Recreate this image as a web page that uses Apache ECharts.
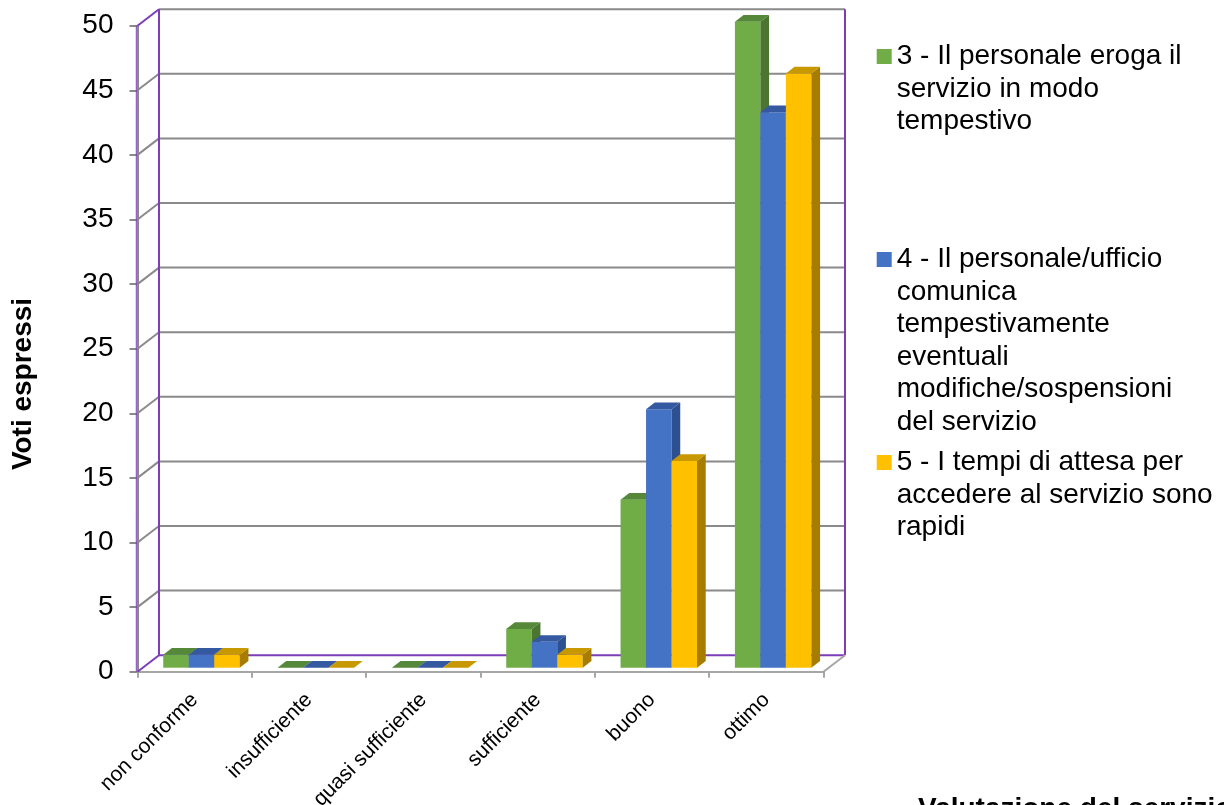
<!DOCTYPE html>
<html>
<head>
<meta charset="utf-8">
<script src="https://cdn.jsdelivr.net/npm/echarts@6/dist/echarts.min.js"></script>
<style>
  html, body { margin: 0; padding: 0; background: #ffffff; }
  #chart { width: 1224px; height: 805px; }
</style>
</head>
<body>
<div id="chart"></div>
<script>
// ---- data ----
const categories = ['non conforme', 'insufficiente', 'quasi sufficiente', 'sufficiente', 'buono', 'ottimo'];
const seriesNames = [
  '3 - Il personale eroga il\nservizio in modo\ntempestivo',
  '4 - Il personale/ufficio\ncomunica\ntempestivamente\neventuali\nmodifiche/sospensioni\ndel servizio',
  '5 - I tempi di attesa per\naccedere al servizio sono\nrapidi'
];
const valuesQ3 = [1, 0, 0, 3, 13, 50];
const valuesQ4 = [1, 0, 0, 2, 20, 43];
const valuesQ5 = [1, 0, 0, 1, 16, 46];
const yTicks = [0, 5, 10, 15, 20, 25, 30, 35, 40, 45, 50];
const yTitle = 'Voti espressi';
const xTitle = 'Valutazione del servizio';

// ---- look ----
const FONT = '"Liberation Sans", Arial, sans-serif';
const FRONT = ['#70AD47', '#4472C4', '#FFC000'];
const SIDE  = ['#4B7630', '#2D5090', '#A67D00'];
const TOP   = ['#558838', '#3459A0', '#C89800'];
const WALL_GREY = '#8A8A8A';
const WALL_PURPLE = '#7D3DB8';
// oblique projection of the chart depth
const DEPTH_X = 21.5, DEPTH_Y = -16.5;     // full depth of the walls
const BAR_X = 6.8, BAR_Y = -4;             // bars sit a little behind the front plane
const BAR_DX = 8.7, BAR_DY = -6.7;         // bar thickness
const BAR_FRAC = 0.223;                    // bar width as a share of the category band

const bars = [valuesQ3, valuesQ4, valuesQ5];
const LEGEND_LINES = 6;

function barRenderer(si) {
  return function (params, api) {
    const ci = api.value(0);
    const v = api.value(1);
    const base = api.coord([ci, 0]);
    const top = api.coord([ci, v]);
    const band = api.size([1, 0])[0];
    const bw = band * BAR_FRAC;
    const x = base[0] - 1.5 * bw + si * bw + BAR_X;
    const yb = base[1] + BAR_Y;
    const yt = top[1] + BAR_Y;
    return {
      type: 'group',
      children: [
        { type: 'rect', shape: { x: x, y: yt, width: bw, height: yb - yt }, style: { fill: FRONT[si] } },
        { type: 'polygon', shape: { points: [[x + bw, yt], [x + bw + BAR_DX, yt + BAR_DY], [x + bw + BAR_DX, yb + BAR_DY], [x + bw, yb]] }, style: { fill: SIDE[si] } },
        { type: 'polygon', shape: { points: [[x, yt], [x + BAR_DX, yt + BAR_DY], [x + bw + BAR_DX, yt + BAR_DY], [x + bw, yt]] }, style: { fill: TOP[si] } }
      ]
    };
  };
}

// gridlines running along the left wall and the back wall
function wallLineRenderer(params, api) {
  const cs = params.coordSys;
  const v = api.value(1);
  const y = api.coord([0, v])[1];
  const x0 = cs.x, x1 = cs.x + cs.width;
  const isTop = v === yTicks[yTicks.length - 1];
  const isBase = v === yTicks[0];
  return {
    type: 'group',
    children: [
      { type: 'polyline', shape: { points: [[x0 + DEPTH_X, y + DEPTH_Y], [x1 + DEPTH_X, y + DEPTH_Y]] },
        style: { stroke: isBase ? WALL_PURPLE : WALL_GREY, lineWidth: 2, fill: null } },
      { type: 'line', shape: { x1: x0, y1: y, x2: x0 + DEPTH_X, y2: y + DEPTH_Y },
        style: { stroke: (isTop || isBase) ? WALL_PURPLE : WALL_GREY, lineWidth: 2 } }
    ]
  };
}

// wall outline and floor edge
function frameRenderer(params, api) {
  const cs = params.coordSys;
  const yBase = api.coord([0, api.value(1)])[1];
  const yTop = api.coord([0, api.value(2)])[1];
  const x0 = cs.x, x1 = cs.x + cs.width;
  return {
    type: 'group',
    children: [
      { type: 'line', shape: { x1: x0 + DEPTH_X, y1: yTop + DEPTH_Y, x2: x0 + DEPTH_X, y2: yBase + DEPTH_Y }, style: { stroke: WALL_PURPLE, lineWidth: 2 } },
      { type: 'line', shape: { x1: x1 + DEPTH_X, y1: yTop + DEPTH_Y, x2: x1 + DEPTH_X, y2: yBase + DEPTH_Y }, style: { stroke: WALL_PURPLE, lineWidth: 2 } },
      { type: 'line', shape: { x1: x0 - 1.2, y1: yTop, x2: x0 - 1.2, y2: yBase }, style: { stroke: WALL_PURPLE, lineWidth: 1 } },
      { type: 'line', shape: { x1: x1, y1: yBase, x2: x1 + DEPTH_X, y2: yBase + DEPTH_Y }, style: { stroke: '#A6A6A6', lineWidth: 2 } }
    ]
  };
}

const chart = echarts.init(document.getElementById('chart'), null, { renderer: 'canvas' });

const series = [
  {
    type: 'custom', name: 'wall', silent: true, z: 1,
    renderItem: wallLineRenderer,
    encode: { x: 0, y: 1 },
    data: yTicks.map(v => [0, v])
  },
  {
    type: 'custom', name: 'frame', silent: true, z: 1,
    renderItem: frameRenderer,
    encode: { x: 0, y: [1, 2] },
    data: [[0, yTicks[0], yTicks[yTicks.length - 1]]]
  }
];
bars.forEach((vals, si) => {
  series.push({
    type: 'custom',
    name: seriesNames[si],
    z: 3 + si,
    silent: true,
    itemStyle: { color: FRONT[si] },
    renderItem: barRenderer(si),
    encode: { x: 0, y: 1 },
    data: vals.map((v, i) => [i, v])
  });
});

chart.setOption({
  animation: false,
  backgroundColor: '#ffffff',
  textStyle: { fontFamily: FONT },
  grid: { left: 137.5, top: 25.7, width: 686, height: 646, containLabel: false, outerBoundsMode: 'none' },
  xAxis: {
    type: 'category',
    data: categories,
    boundaryGap: true,
    axisLine: { show: true, lineStyle: { color: '#A6A6A6', width: 2 } },
    axisTick: { show: true, length: 6, interval: 0, lineStyle: { color: '#A6A6A6', width: 2 } },
    axisLabel: { interval: 0, rotate: 45, margin: 25, fontSize: 21, color: '#000', fontFamily: FONT },
    splitLine: { show: false }
  },
  yAxis: {
    type: 'value',
    min: 0, max: 50, interval: 5,
    axisLine: { show: true, lineStyle: { color: WALL_GREY, width: 2 } },
    axisTick: { show: true, length: 8, lineStyle: { color: WALL_GREY, width: 2 } },
    axisLabel: { margin: 24, fontSize: 28, color: '#000', fontFamily: FONT },
    splitLine: { show: false }
  },
  legend: {
    orient: 'vertical',
    left: 876.7,
    top: 40.25,
    padding: 0,
    itemWidth: 15,
    itemHeight: 195,
    itemGap: 8,
    selectedMode: false,
    icon: 'path://M0,0L0.01,0M0,8.75L15,8.75L15,23.75L0,23.75ZM0,195L0.01,195',
    data: seriesNames,
    formatter: function (name) {
      const lines = name.split('\n');
      while (lines.length < LEGEND_LINES) lines.push(' ');
      return lines.join('\n');
    },
    textStyle: { fontSize: 28, lineHeight: 32.5, color: '#000', fontFamily: FONT }
  },
  graphic: [
    {
      type: 'text', x: 23.5, y: 384, rotation: Math.PI / 2,
      style: { text: yTitle, font: 'bold 28px ' + FONT, fill: '#000', align: 'center', verticalAlign: 'middle' }
    },
    {
      type: 'text', x: 918, y: 795,
      style: { text: xTitle, font: 'bold 28px ' + FONT, fill: '#000', align: 'left', verticalAlign: 'top' }
    }
  ],
  series: series
});
</script>
</body>
</html>
